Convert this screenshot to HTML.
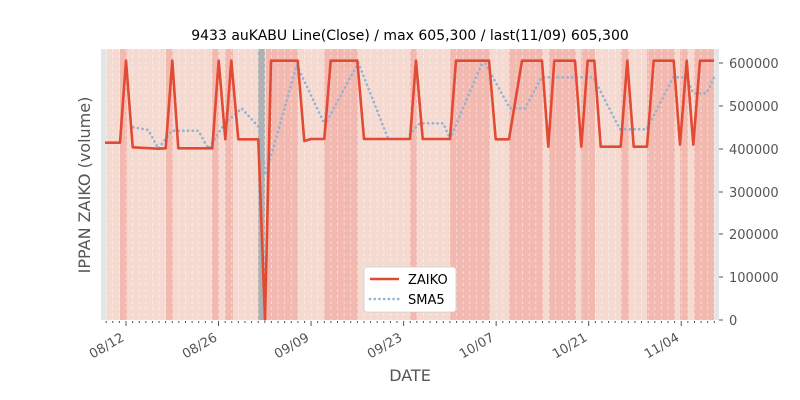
<!DOCTYPE html>
<html><head><meta charset="utf-8"><style>
body{margin:0;background:#fff;}
svg{display:block;font-family:"DejaVu Sans","Liberation Sans",sans-serif;}
</style></head><body>
<svg id="s" width="800" height="400" xmlns="http://www.w3.org/2000/svg">
<rect x="0" y="0" width="800" height="400" fill="#fff"/>
<rect x="101" y="49" width="618" height="271" fill="#e5e5e5"/>
<rect x="107" y="49" width="607" height="271" fill="#f5dad2"/>
<g fill="#f2b9b0">
<rect x="120" y="49" width="7" height="271"/>
<rect x="166" y="49" width="7" height="271"/>
<rect x="212" y="49" width="7" height="271"/>
<rect x="225" y="49" width="8" height="271"/>
<rect x="266" y="49" width="32" height="271"/>
<rect x="324" y="49" width="34" height="271"/>
<rect x="410" y="49" width="7" height="271"/>
<rect x="450" y="49" width="40" height="271"/>
<rect x="509" y="49" width="34" height="271"/>
<rect x="549" y="49" width="27" height="271"/>
<rect x="581" y="49" width="14" height="271"/>
<rect x="621" y="49" width="8" height="271"/>
<rect x="647" y="49" width="28" height="271"/>
<rect x="680" y="49" width="8" height="271"/>
<rect x="694" y="49" width="20" height="271"/>
</g>
<rect x="258" y="49" width="7" height="271" fill="#b0b0b0"/>
<g id="grid" stroke="#fff" stroke-opacity="0.6" stroke-width="0.8" stroke-dasharray="3,3"></g>
<g id="ticks" stroke="#555" stroke-width="1"></g>
<g stroke="#555" stroke-width="1">
<line x1="719" y1="63" x2="723" y2="63"/><line x1="719" y1="106" x2="723" y2="106"/>
<line x1="719" y1="149" x2="723" y2="149"/><line x1="719" y1="192" x2="723" y2="192"/>
<line x1="719" y1="234" x2="723" y2="234"/><line x1="719" y1="277" x2="723" y2="277"/>
<line x1="719" y1="320" x2="723" y2="320"/>
</g>
<g font-size="13" fill="#555">
<text x="729" y="68">600000</text><text x="729" y="111">500000</text>
<text x="729" y="154">400000</text><text x="729" y="197">300000</text>
<text x="729" y="239">200000</text><text x="729" y="282">100000</text>
<text x="729" y="325">0</text>
</g>
<polyline fill="none" stroke="#8fb3d2" stroke-width="2.6" stroke-dasharray="0.1,4.6" stroke-linecap="round" points="133.3,127.3 148.3,130 158.3,148.7 171.7,130.7 198.3,130.7 208.3,148.7 225,123.3 241.7,108.3 259,127.3 265.7,175 296.7,65 325,125 358.3,62.7 388.3,139 410,139 410,133.3 420,123.3 443.3,123.3 450,139 483.3,60 510,108.3 525,108.3 541.7,77.3 593.3,77.3 620,129.3 646.7,129.3 673.3,77.3 686.7,77.3 693.3,93.3 706.7,93.3 714,77.3"/>
<polyline fill="none" stroke="#e24a33" stroke-width="2.6" stroke-linejoin="round" points="105,142.7 120,142.7 126,60.7 132.7,147.3 158.3,148.7 165.7,148.3 172.3,60.7 178.3,148.3 212.3,148.3 218.7,60.7 225.3,139.3 231.3,60.7 238.3,139.3 258.3,139.3 265,319.3 271,60.7 297.7,60.7 304.3,141 311,139 324.3,139 330.7,60.7 357.3,60.7 364,139 410,139 416,60.7 422.7,139 450,139 456,60.7 489,60.7 495.7,139.3 509,139.3 522,60.7 542,60.7 548.3,146.7 554.3,60.7 575,60.7 581.3,146.7 587.7,60.7 594.3,60.7 600.7,146.7 620.7,146.7 627.3,60.7 633.7,146.7 647,146.7 653.7,60.7 673.7,60.7 680,144.7 686.7,60.7 693.3,144.7 700,60.7 714,60.7"/>
<g font-size="13" fill="#555">
<text transform="translate(125,340) rotate(-30)" text-anchor="end">08/12</text>
<text transform="translate(218,340) rotate(-30)" text-anchor="end">08/26</text>
<text transform="translate(310,340) rotate(-30)" text-anchor="end">09/09</text>
<text transform="translate(403,340) rotate(-30)" text-anchor="end">09/23</text>
<text transform="translate(495,340) rotate(-30)" text-anchor="end">10/07</text>
<text transform="translate(588,340) rotate(-30)" text-anchor="end">10/21</text>
<text transform="translate(680,340) rotate(-30)" text-anchor="end">11/04</text>
</g>
<text x="410" y="40" font-size="14" text-anchor="middle" fill="#000">9433 auKABU Line(Close) / max 605,300 / last(11/09) 605,300</text>
<text x="410" y="381" font-size="16" text-anchor="middle" fill="#555">DATE</text>
<text transform="translate(90,185) rotate(-90)" font-size="16" text-anchor="middle" fill="#555">IPPAN ZAIKO (volume)</text>
<rect x="364" y="267" width="92" height="45" rx="3" fill="#fff" stroke="#ccc" stroke-width="0.8"/>
<line x1="370" y1="279" x2="399" y2="279" stroke="#e24a33" stroke-width="2.6"/>
<line x1="370" y1="299" x2="399" y2="299" stroke="#8fb3d2" stroke-width="2.6" stroke-dasharray="0.1,4.6" stroke-linecap="round"/>
<text x="408" y="284" font-size="13" fill="#000">ZAIKO</text>
<text x="408" y="304" font-size="13" fill="#000">SMA5</text>
</svg>
<script>
var g=document.getElementById('grid'),t=document.getElementById('ticks'),ns='http://www.w3.org/2000/svg';
for(var d=-3;d<=89;d++){var x=126+d*6.61;
var l=document.createElementNS(ns,'line');l.setAttribute('x1',x);l.setAttribute('x2',x);l.setAttribute('y1',49);l.setAttribute('y2',320);g.appendChild(l);
var k=document.createElementNS(ns,'line');var maj=(d>=0&&d%14==0);k.setAttribute('x1',x);k.setAttribute('x2',x);k.setAttribute('y1',321);k.setAttribute('y2',maj?326:323);t.appendChild(k);}
</script>
</body></html>
